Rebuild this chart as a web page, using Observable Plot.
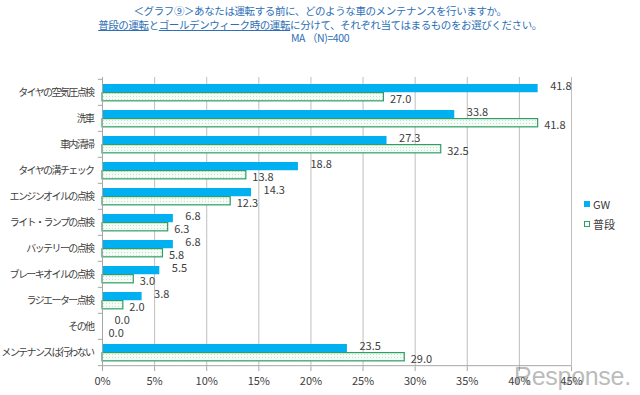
<!DOCTYPE html>
<html><head><meta charset="utf-8">
<script src="https://cdn.jsdelivr.net/npm/d3@7"></script>
<script src="https://cdn.jsdelivr.net/npm/@observablehq/plot@0.6"></script>
<style>
body{margin:0;background:#fff;font-family:"Noto Sans CJK JP","Noto Sans",sans-serif;}
#wrap{position:relative;width:640px;height:395px;overflow:hidden;}
#title{position:absolute;left:0;top:4px;width:640px;text-align:center;color:#2e6fb5;font-size:10.5px;line-height:13.5px;letter-spacing:-0.4px;}
#title u{text-decoration:underline;}
#chart{position:absolute;left:0;top:50px;}
#chart g[aria-label="y-axis tick label"] text{letter-spacing:-1.6px;}
.leg{position:absolute;font-size:11px;color:#404040;display:flex;align-items:center;}
.sw{width:6px;height:6px;margin-right:3px;box-sizing:border-box;}
#wm{position:absolute;left:514px;top:362px;font-family:"Liberation Sans",sans-serif;font-size:25px;line-height:28px;color:rgba(120,120,120,0.5);letter-spacing:-0.3px;}
</style></head>
<body><div id="wrap">
<div id="title">
<div>＜グラフ⑨＞あなたは運転する前に、どのような車のメンテナンスを行いますか。</div>
<div><u>普段の運転</u>と<u>ゴールデンウィーク時の運転</u>に分けて、それぞれ当てはまるものをお選びください。</div>
<div>MA （N)=400</div>
</div>
<div id="chart"></div>
<div class="leg" style="left:584px;top:196px;"><div class="sw" style="background:#00b0f0;"></div>GW</div>
<div class="leg" style="left:584px;top:216px;"><div class="sw" style="border:1px solid #2e9e63;background:#fff;"></div>普段</div>
<div id="wm">Response.</div>
</div>
<script>
const categories = ["タイヤの空気圧点検","洗車","車内清掃","タイヤの溝チェック","エンジンオイルの点検","ライト・ランプの点検","バッテリーの点検","ブレーキオイルの点検","ラジエーター点検","その他","メンテナンスは行わない"];
const gw = [41.8,33.8,27.3,18.8,14.3,6.8,6.8,5.5,3.8,0.0,23.5];
const fudan = [27.0,41.8,32.5,13.8,12.3,6.3,5.8,3.0,2.0,0.0,29.0];
const xTicks = [0,5,10,15,20,25,30,35,40,45];

const gwData = categories.map((c,i)=>({cat:c, v:gw[i]}));
const fdData = categories.map((c,i)=>({cat:c, v:fudan[i]}));

const H = 345, mT = 27, mB = 28;
const band = (H - mT - mB) / categories.length;
const barH = 8.6, top0 = 5;

const chart = Plot.plot({
  width: 640, height: H,
  marginLeft: 102, marginRight: 69, marginTop: mT, marginBottom: mB,
  style: {fontFamily: '"Noto Sans CJK JP","Noto Sans",sans-serif', color: "#404040", background: "#fff"},
  x: {domain: [0,45], ticks: xTicks, tickFormat: d => d + "%", label: null},
  y: {domain: categories, padding: 0, label: null},
  marks: [
    Plot.gridX(xTicks, {stroke: "#bfbfbf", strokeOpacity: 1}),
    Plot.axisX(xTicks, {tickFormat: d => d + "%", tickSize: 4, stroke: "#a6a6a6", fontSize: 11, fill: "#404040", tickPadding: 6, label: null}),
    Plot.axisY({tickSize: 0, tickPadding: 9, fontSize: 10, fill: "#404040", label: null}),
    Plot.ruleY(categories, {y: d => d, x1: -0.4, x2: 0, dy: -band/2, stroke: "#a6a6a6"}),
    Plot.ruleY(categories.slice(-1), {y: d => d, x1: -0.4, x2: 45, dy: band/2, stroke: "#a6a6a6"}),
    Plot.barX(gwData, {y: "cat", x: "v", fill: "#00b0f0", insetTop: top0, insetBottom: band - top0 - barH}),
    Plot.barX(fdData, {y: "cat", x: "v", fill: "url(#dots)", stroke: "#2e9e63", strokeWidth: 1.2, insetTop: top0 + barH, insetBottom: band - top0 - 2*barH}),
    Plot.ruleX([0], {stroke: "#a6a6a6"}),
    Plot.text(gwData, {y: "cat", x: "v", text: d => d.v.toFixed(1), textAnchor: "start", dx: 12, dy: -6, fontSize: 11, fill: "#404040"}),
    Plot.text(fdData, {y: "cat", x: "v", text: d => d.v.toFixed(1), textAnchor: "start", dx: 6, dy: 7, fontSize: 11, fill: "#404040"})
  ]
});
const ns = "http://www.w3.org/2000/svg";
const defs = document.createElementNS(ns, "defs");
defs.innerHTML = '<pattern id="dots" width="3" height="3" patternUnits="userSpaceOnUse"><rect width="3" height="3" fill="#f5fbf7"/><rect x="1" y="1" width="1" height="1" fill="#c2e4cc"/></pattern>';
chart.insertBefore(defs, chart.firstChild);
document.getElementById("chart").appendChild(chart);
</script>
</body></html>
